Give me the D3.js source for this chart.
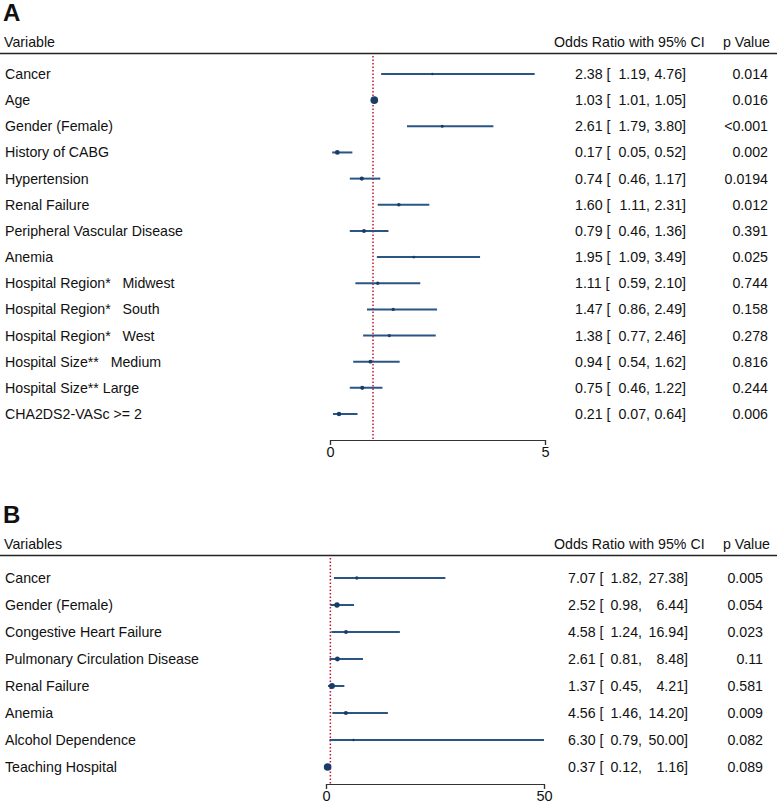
<!DOCTYPE html>
<html>
<head>
<meta charset="utf-8">
<script src="https://cdn.jsdelivr.net/npm/d3@7"></script>
<style>
  body { margin: 0; background: #fff; }
  text { font-family: "Liberation Sans", Arial, sans-serif; fill: #111; }
</style>
</head>
<body>
<svg id="chart" width="777" height="803"></svg>
<script>
// panel A data
const varsA = ['Cancer', 'Age', 'Gender (Female)', 'History of CABG', 'Hypertension', 'Renal Failure',
  'Peripheral Vascular Disease', 'Anemia', 'Hospital Region*   Midwest', 'Hospital Region*   South',
  'Hospital Region*   West', 'Hospital Size**   Medium', 'Hospital Size** Large', 'CHA2DS2-VASc >= 2'];
const orA = [2.38, 1.03, 2.61, 0.17, 0.74, 1.60, 0.79, 1.95, 1.11, 1.47, 1.38, 0.94, 0.75, 0.21];
const loA = [1.19, 1.01, 1.79, 0.05, 0.46, 1.11, 0.46, 1.09, 0.59, 0.86, 0.77, 0.54, 0.46, 0.07];
const hiA = [4.76, 1.05, 3.80, 0.52, 1.17, 2.31, 1.36, 3.49, 2.10, 2.49, 2.46, 1.62, 1.22, 0.64];
const pA = ['0.014', '0.016', '<0.001', '0.002', '0.0194', '0.012', '0.391', '0.025', '0.744', '0.158', '0.278', '0.816', '0.244', '0.006'];
const ticksA = [0, 5];

// panel B data
const varsB = ['Cancer', 'Gender (Female)', 'Congestive Heart Failure', 'Pulmonary Circulation Disease',
  'Renal Failure', 'Anemia', 'Alcohol Dependence', 'Teaching Hospital'];
const orB = [7.07, 2.52, 4.58, 2.61, 1.37, 4.56, 6.30, 0.37];
const loB = [1.82, 0.98, 1.24, 0.81, 0.45, 1.46, 0.79, 0.12];
const hiB = [27.38, 6.44, 16.94, 8.48, 4.21, 14.20, 50.00, 1.16];
const pB = ['0.005', '0.054', '0.023', '0.11', '0.581', '0.009', '0.082', '0.089'];
const ticksB = [0, 50];

const svg = d3.select('#chart');
const fs = 14.2;

function panel(cfg) {
  const g = svg.append('g');
  const rows = cfg.vars.map((v, i) => ({ v, or: cfg.or[i], lo: cfg.lo[i], hi: cfg.hi[i], p: cfg.p[i] }));

  const x = d3.scaleLinear().domain(d3.extent(cfg.ticks)).range(cfg.xr);
  const y = d3.scalePoint().domain(cfg.vars).range(cfg.yr);
  const widths = rows.map(d => d.hi - d.lo);
  // marker size shrinks as the CI gets wider
  const r = d3.scaleLog().domain(d3.extent(widths)).range([3.8, 1.2]);

  g.append('text').attr('x', 3).attr('y', cfg.top + 21)
    .style('font-size', '24px').style('font-weight', 'bold').text(cfg.letter);

  g.append('text').attr('x', 4).attr('y', cfg.top + 47).style('font-size', fs + 'px').text(cfg.head);
  g.append('text').attr('x', 554).attr('y', cfg.top + 47).style('font-size', fs + 'px').text('Odds Ratio with 95% CI');
  g.append('text').attr('x', 770).attr('y', cfg.top + 47).attr('text-anchor', 'end').style('font-size', fs + 'px').text('p Value');

  g.append('line').attr('x1', 0).attr('x2', 777).attr('y1', cfg.top + 53.5).attr('y2', cfg.top + 53.5)
    .attr('stroke', '#222').attr('stroke-width', 1.6);

  // null line at OR = 1
  g.append('line').attr('x1', x(1)).attr('x2', x(1)).attr('y1', cfg.top + 56).attr('y2', cfg.axisY)
    .attr('stroke', '#c8102e').attr('stroke-width', 1.5).attr('stroke-dasharray', '1.5,2');

  const row = g.selectAll('.row').data(rows).join('g').attr('class', 'row');

  row.append('text').attr('x', 5).attr('y', d => y(d.v) + 5).style('font-size', fs + 'px')
    .style('white-space', 'pre').attr('xml:space', 'preserve').text(d => d.v);

  row.append('line').attr('x1', d => x(d.lo)).attr('x2', d => x(d.hi))
    .attr('y1', d => y(d.v)).attr('y2', d => y(d.v))
    .attr('stroke', '#2a5584').attr('stroke-width', 2);

  row.append('circle').attr('cx', d => x(d.or)).attr('cy', d => y(d.v)).attr('r', d => r(d.hi - d.lo))
    .attr('fill', '#1b3c66');

  row.append('text').attr('x', cfg.estX).attr('y', d => y(d.v) + 5).style('font-size', fs + 'px')
    .text(d => d.or.toFixed(2) + ' [');
  row.append('text').attr('x', cfg.loX).attr('y', d => y(d.v) + 5).attr('text-anchor', 'end').style('font-size', fs + 'px')
    .text(d => d.lo.toFixed(2) + ',');
  row.append('text').attr('x', cfg.hiX).attr('y', d => y(d.v) + 5).attr('text-anchor', 'end').style('font-size', fs + 'px')
    .text(d => d.hi.toFixed(2) + ']');
  row.append('text').attr('x', cfg.pX).attr('y', d => y(d.v) + 5).attr('text-anchor', 'end').style('font-size', fs + 'px')
    .text(d => d.p);

  const axis = g.append('g').attr('transform', `translate(0,${cfg.axisY})`)
    .call(d3.axisBottom(x).tickValues(cfg.ticks).tickSize(5).tickPadding(2).tickFormat(d3.format('d')));
  axis.select('.domain').attr('stroke', '#333').attr('stroke-width', 1.2);
  axis.selectAll('.tick line').attr('stroke', '#333').attr('stroke-width', 1.2);
  axis.selectAll('.tick text').style('font-size', '14.5px').style('font-family', '"Liberation Sans", Arial, sans-serif')
    .attr('fill', '#111');
}

panel({ letter: 'A', head: 'Variable', top: 0, vars: varsA, or: orA, lo: loA, hi: hiA, p: pA, ticks: ticksA,
  xr: [330, 545], yr: [74, 414], axisY: 440, estX: 575, loX: 650, hiX: 686, pX: 768 });

panel({ letter: 'B', head: 'Variables', top: 502, vars: varsB, or: orB, lo: loB, hi: hiB, p: pB, ticks: ticksB,
  xr: [326, 544], yr: [578, 767], axisY: 784, estX: 568, loX: 642, hiX: 688, pX: 763 });
</script>
</body>
</html>
